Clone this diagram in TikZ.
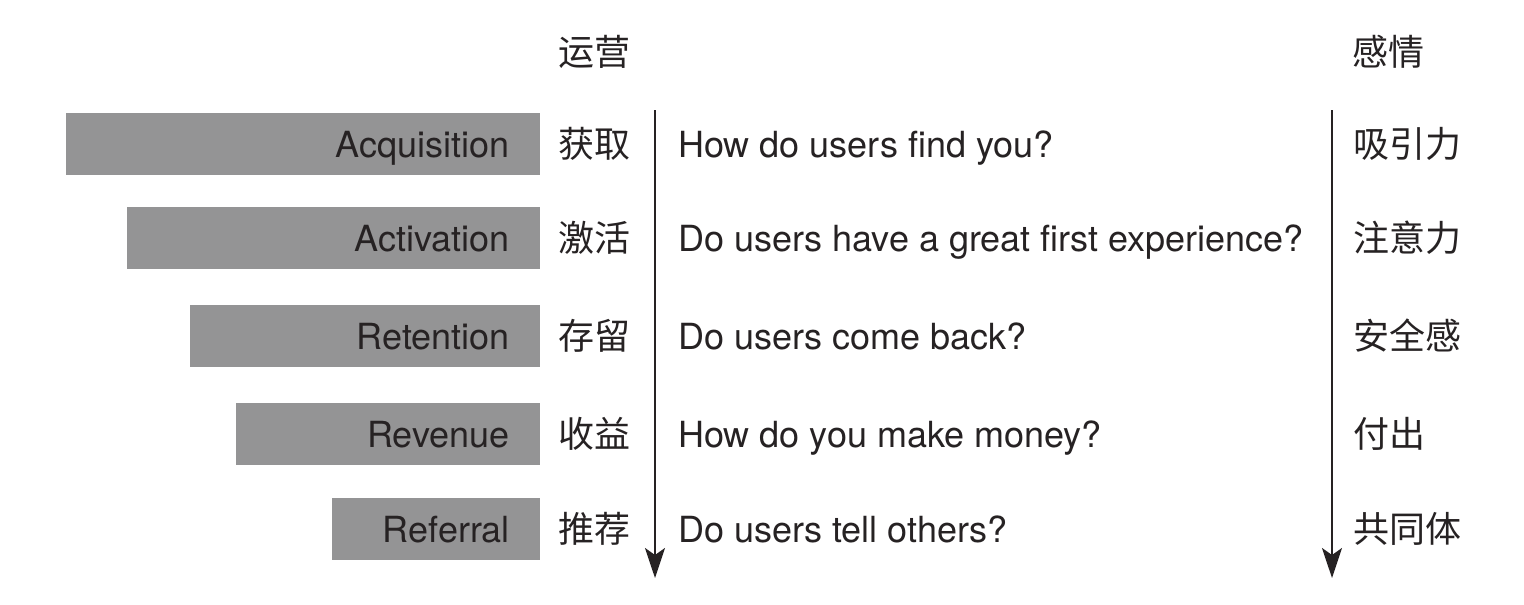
\documentclass[tikz,border=0pt]{standalone}
\usepackage{fontspec}
\setmainfont{TeX Gyre Heros}
\newfontfamily\cjk{Noto Sans CJK SC}
\usetikzlibrary{arrows.meta}
\definecolor{barcol}{RGB}{148,148,149}
\definecolor{ink}{RGB}{38,34,35}
\tikzset{
  en/.style={text=ink, font=\fontsize{36}{40}\selectfont, text height=26pt, text depth=0pt, inner sep=0pt},
  zh/.style={text=ink, font=\cjk\fontsize{36}{40}\selectfont, text height=27pt, text depth=0pt, inner sep=0pt, anchor=west},
  q/.style={en, anchor=west},
  bar/.style={en, fill=barcol, anchor=east, minimum height=62pt, inner xsep=30pt, align=right},
  flow/.style={draw=ink, line width=2pt, -{Stealth[length=30pt,width=20pt,inset=7pt]}},
}
\begin{document}
\begin{tikzpicture}[x=1pt,y=-1pt]
\useasboundingbox (0,0) rectangle (1524,605);
% headers
\node[zh] (hop) at (558,52) {运营};
\node[zh] (hemo) at (1352,52) {感情};
% bars
\node[bar, text width=414pt] (b1) at (540,144) {Acquisition};
\node[bar, text width=353pt] (b2) at (540,238) {Activation};
\node[bar, text width=290pt] (b3) at (540,336) {Retention};
\node[bar, text width=244pt] (b4) at (540,434) {Revenue};
\node[bar, text width=148pt] (b5) at (540,529) {Referral};
% chinese labels
\node[zh] (c1) at (558,144) {获取};
\node[zh] (c2) at (558,238) {激活};
\node[zh] (c3) at (558,336) {存留};
\node[zh] (c4) at (558,434) {收益};
\node[zh] (c5) at (558,529) {推荐};
% questions
\node[q] (q1) at (678,144) {How do users find you?};
\node[q] (q2) at (678,238) {Do users have a great first experience?};
\node[q] (q3) at (678,336) {Do users come back?};
\node[q] (q4) at (678,434) {How do you make money?};
\node[q] (q5) at (678,529) {Do users tell others?};
% emotions
\node[zh] (e1) at (1353,144) {吸引力};
\node[zh] (e2) at (1353,238) {注意力};
\node[zh] (e3) at (1353,336) {安全感};
\node[zh] (e4) at (1353,434) {付出};
\node[zh] (e5) at (1353,529) {共同体};
% arrows
\coordinate (la) at (655,110);
\coordinate (lb) at (655,578);
\coordinate (ra) at (1332,110);
\coordinate (rb) at (1332,578);
\draw[flow] (la) -- (lb);
\draw[flow] (ra) -- (rb);
\end{tikzpicture}
\end{document}
